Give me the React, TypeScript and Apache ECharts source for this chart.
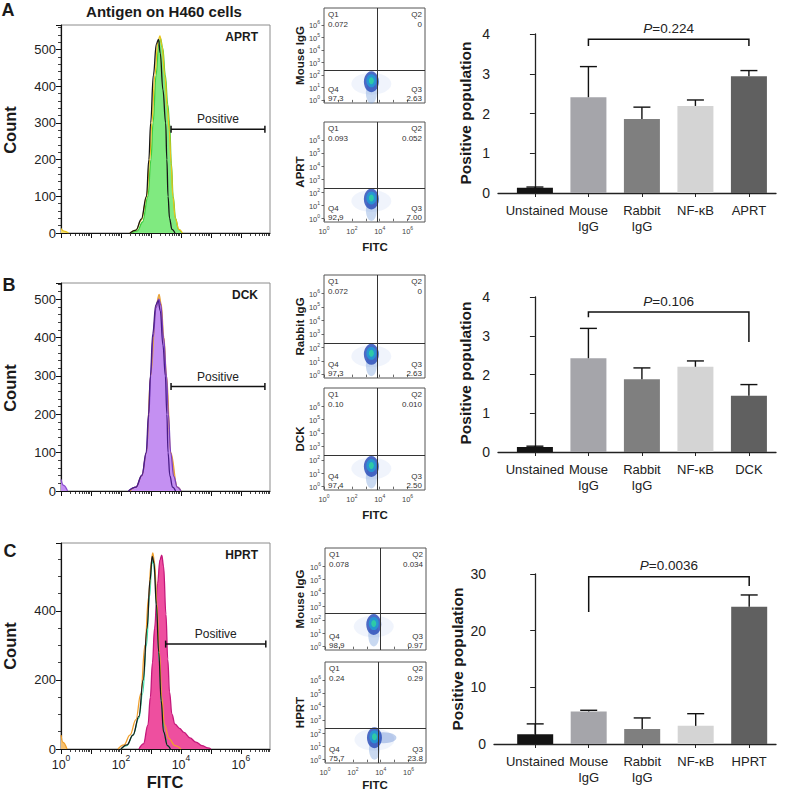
import React, { useEffect, useRef } from "react";
import * as echarts from "echarts";

const FONT = "'Liberation Sans', Arial, Helvetica, sans-serif";

// ---------------- Histogram data (x = log10 FITC, y = count) ----------------
const histA_aprt = [[2.35,0],[2.55,6],[2.72,30],[2.9,100],[3.0,200],[3.07,300],[3.17,430],[3.26,515],[3.32,530],[3.39,505],[3.48,430],[3.56,350],[3.62,300],[3.68,190],[3.74,100],[3.82,40],[3.92,10],[4.03,0]];
const histA_mouse = [[2.3,0],[2.5,8],[2.68,35],[2.86,100],[2.96,200],[3.03,300],[3.13,430],[3.23,520],[3.3,537],[3.37,510],[3.46,430],[3.55,340],[3.61,280],[3.67,190],[3.73,100],[3.81,40],[3.93,10],[4.05,0]];
const histA_unstained = [[2.3,0],[2.5,8],[2.68,38],[2.85,100],[2.93,200],[2.99,300],[3.08,430],[3.18,515],[3.25,528],[3.31,490],[3.4,390],[3.49,300],[3.53,200],[3.57,100],[3.62,40],[3.7,10],[3.8,0]];
const histA_bump = [[0,12],[0.1,5],[0.25,0]];

const histB_mouse = [[2.3,0],[2.5,10],[2.7,40],[2.85,100],[2.99,300],[3.17,480],[3.27,512],[3.34,488],[3.43,400],[3.52,300],[3.66,100],[3.88,10],[4.0,0]];
const histB_dck = [[2.25,0],[2.5,10],[2.7,40],[2.85,100],[2.93,200],[2.99,300],[3.07,400],[3.17,478],[3.26,500],[3.33,485],[3.42,400],[3.52,300],[3.58,200],[3.66,100],[3.76,38],[3.88,10],[4.0,0]];
const histB_rabbit = [[2.25,0],[2.5,10],[2.7,42],[2.84,100],[2.92,200],[2.98,300],[3.06,410],[3.16,485],[3.24,496],[3.31,470],[3.4,380],[3.48,300],[3.53,200],[3.57,100],[3.63,40],[3.72,10],[3.82,0]];
const histB_bump = [[0,30],[0.08,15],[0.22,0]];

const histC_hprt = [[2.6,0],[2.75,15],[2.9,70],[2.98,150],[3.05,250],[3.12,350],[3.22,480],[3.3,548],[3.36,562],[3.42,530],[3.5,390],[3.56,260],[3.62,165],[3.7,100],[3.8,72],[3.95,60],[4.1,48],[4.3,32],[4.5,20],[4.7,10],[4.9,3],[5.0,0]];
const histC_rabbit = [[2.0,0],[2.2,10],[2.4,40],[2.6,90],[2.72,160],[2.85,300],[2.95,440],[3.03,535],[3.08,550],[3.13,505],[3.2,390],[3.28,250],[3.36,120],[3.45,40],[3.55,10],[3.65,0]];
const histC_mouse = [[1.9,0],[2.1,12],[2.3,40],[2.5,85],[2.66,160],[2.8,300],[2.92,440],[3.0,535],[3.06,568],[3.12,540],[3.2,420],[3.28,280],[3.36,150],[3.45,70],[3.6,30],[3.8,10],[4.0,0]];
const histC_unstained = [[2.0,0],[2.2,12],[2.4,40],[2.6,95],[2.74,200],[2.87,350],[2.97,490],[3.04,558],[3.1,540],[3.18,420],[3.26,280],[3.34,140],[3.42,50],[3.55,10],[3.65,0]];
const histC_bump = [[0,40],[0.06,20],[0.2,0]];

const histTitles = ["APRT", "DCK", "HPRT"];
const histYMax = [567, 542, 597];
const histYInterval = [100, 100, 200];
const histXMax = 6.97;
const histXLabelValues = [0, 2, 4, 6];
const histXMajorTicks = [0, 1, 2, 3, 4, 5, 6];
const positiveGateX0 = [3.67, 3.67, 3.49];
const positiveGateX1 = [6.8, 6.8, 6.83];
const positiveGateY = [283, 272, 304];

// ---------------- Flow cytometry dot plots ----------------
const flowLabels = ["Mouse IgG", "APRT", "Rabbit IgG", "DCK", "Mouse IgG", "HPRT"];
const flowQ1 = ["0.072", "0.093", "0.072", "0.10", "0.078", "0.24"];
const flowQ2 = ["0", "0.052", "0", "0.010", "0.034", "0.29"];
const flowQ3 = ["2.63", "7.00", "2.63", "2.50", "0.97", "23.8"];
const flowQ4 = ["97.3", "92.9", "97.3", "97.4", "98.9", "75.7"];
const flowGateX = [3.8, 3.8, 3.8, 3.8, 4.0, 3.8];
const flowGateY = [2.35, 2.35, 2.35, 2.35, 2.5, 2.4];
const flowCoreX = [3.4, 3.4, 3.4, 3.4, 3.5, 3.55];
const flowCoreY = [1.45, 1.5, 1.5, 1.5, 1.65, 1.65];
const flowTicks = [0, 1, 2, 3, 4, 5, 6];
const flowXLabelValues = [0, 2, 4, 6];

// ---------------- Bar charts ----------------
const barCategories = ["Unstained", "Mouse\nIgG", "Rabbit\nIgG", "NF-κB"];
const barTargets = ["APRT", "DCK", "HPRT"];
const barMeansA = [0.13, 2.41, 1.86, 2.19, 2.94];
const barErrTopA = [0.15, 3.18, 2.16, 2.34, 3.08];
const barMeansB = [0.13, 2.42, 1.88, 2.2, 1.45];
const barErrTopB = [0.15, 3.19, 2.17, 2.35, 1.74];
const barMeansC = [1.7, 5.75, 2.65, 3.2, 24.2];
const barErrTopC = [3.55, 5.95, 4.6, 5.35, 26.3];
const barYMax = [4, 4, 30];
const barYInterval = [1, 1, 10];
const pValues = ["0.224", "0.106", "0.0036"];
const bracketFrom = [1, 1, 1];
const bracketTo = [4, 4, 4];
const bracketY = [3.87, 3.61, 29.5];
const bracketLeftEnd = [3.7, 3.48, 23.3];
const bracketRightEnd = [3.7, 2.84, 27.9];

// ---------------- layout (positions / styles) ----------------
const HIST_BOX = [
  { left: 61, top: 25, width: 209, height: 208 },
  { left: 61, top: 283, width: 209, height: 208 },
  { left: 61, top: 543, width: 209, height: 206 },
];
const FLOW_BOX = [
  { left: 324, top: 8, width: 101, height: 95 },
  { left: 324, top: 122, width: 101, height: 100 },
  { left: 324, top: 275, width: 101, height: 103 },
  { left: 324, top: 388, width: 101, height: 102 },
  { left: 325, top: 548, width: 101, height: 102 },
  { left: 325, top: 662, width: 101, height: 101 },
];
const BAR_BOX = [
  { left: 498, top: 34, width: 278, height: 159, xMin: -0.69 },
  { left: 498, top: 297, width: 278, height: 155, xMin: -0.69 },
  { left: 494, top: 574, width: 282, height: 170, xMin: -0.77 },
];
const BAR_UNIT = 53.5;
const barColors = ["#141414", "#a5a5aa", "#7f7f7f", "#d4d4d4", "#606060"];

const minorLogTicks: number[] = [];
for (let n = 0; n < 7; n++) {
  for (let k = 2; k < 10; k++) {
    const v = n + Math.log10(k);
    if (v < histXMax) minorLogTicks.push(v);
  }
}

function txt(x: number, y: number, text: string, o: any = {}) {
  const align = o.align || "center";
  const va = o.va || "middle";
  return {
    type: "text",
    x,
    y,
    rotation: o.rotation || 0,
    silent: true,
    z: 50,
    style: {
      text,
      fontFamily: FONT,
      fontSize: o.size || 12,
      fontWeight: o.bold ? "bold" : "normal",
      fill: o.color || "#1a1a1a",
      align,
      textAlign: align,
      verticalAlign: va,
      textVerticalAlign: va,
    },
  };
}

function buildOption() {
  const grid: any[] = [];
  const xAxis: any[] = [];
  const yAxis: any[] = [];
  const series: any[] = [];
  const graphic: any[] = [];

  // ====== Histograms ======
  const histLayers = [
    [
      { data: histA_aprt, line: "#3fcf3f", fill: "#80ea80" },
      { data: histA_mouse, line: "#e8c41c" },
      { data: histA_unstained, line: "#161616" },
      { data: histA_bump, line: "#e8c41c", fill: "#f2dc70" },
    ],
    [
      { data: histB_mouse, line: "#e8a33a", fill: "#f0b860" },
      { data: histB_dck, line: "#7a3fc2", fill: "#c490f2" },
      { data: histB_rabbit, line: "#4a1d88" },
      { data: histB_bump, line: "#8e50d0", fill: "#c490f2" },
    ],
    [
      { data: histC_hprt, line: "#c4177a", fill: "#ee4f9f" },
      { data: histC_rabbit, line: "#3ddba6" },
      { data: histC_mouse, line: "#f0a02c" },
      { data: histC_unstained, line: "#1a1a1a" },
      { data: histC_bump, line: "#f0a02c", fill: "#f5c070" },
    ],
  ];

  HIST_BOX.forEach((b, i) => {
    const g = grid.length;
    grid.push({ left: b.left, top: b.top, width: b.width, height: b.height, show: true, borderColor: "#8c8c8c", borderWidth: 1, backgroundColor: "transparent" });
    const xi = xAxis.length;
    xAxis.push({
      type: "value", gridIndex: g, min: 0, max: histXMax, position: "bottom",
      axisLine: { show: true, lineStyle: { color: "#111", width: 1.2 } },
      axisTick: { show: true, customValues: histXMajorTicks, length: 5, lineStyle: { color: "#111", width: 1 } },
      splitLine: { show: false },
      axisLabel: {
        show: i === 2,
        customValues: histXLabelValues,
        margin: 4,
        formatter: (v: number) => `{b|10}{s|${v}}`,
        rich: {
          b: { fontSize: 12.5, fontFamily: FONT, color: "#222", lineHeight: 18, verticalAlign: "bottom" },
          s: { fontSize: 8.5, fontFamily: FONT, color: "#222", lineHeight: 9, verticalAlign: "top" },
        },
      },
    });
    xAxis.push({
      type: "value", gridIndex: g, min: 0, max: histXMax, position: "bottom",
      axisLine: { show: false },
      axisTick: { show: true, customValues: minorLogTicks, length: 3, lineStyle: { color: "#111", width: 0.8 } },
      axisLabel: { show: false },
      splitLine: { show: false },
    });
    const yi = yAxis.length;
    yAxis.push({
      type: "value", gridIndex: g, min: 0, max: histYMax[i], interval: histYInterval[i],
      axisLine: { show: true, lineStyle: { color: "#111", width: 1.2 } },
      axisTick: { show: true, length: 5, lineStyle: { color: "#111" } },
      minorTick: { show: true, splitNumber: i === 2 ? 4 : 5, length: 3, lineStyle: { color: "#111", width: 0.8 } },
      splitLine: { show: false },
      axisLabel: { fontSize: 13, color: "#222", margin: 5, showMaxLabel: false, fontFamily: FONT },
    });
    histLayers[i].forEach((l: any) => {
      series.push({
        type: "line", xAxisIndex: xi, yAxisIndex: yi, data: l.data,
        smooth: 0.4, smoothMonotone: "x", showSymbol: false, symbol: "none", silent: true,
        lineStyle: { color: l.line, width: 1.3 },
        areaStyle: l.fill ? { color: l.fill, opacity: 1 } : undefined,
        z: 3,
      });
    });
    // "Positive" gate
    series.push({
      type: "custom", xAxisIndex: xi, yAxisIndex: yi, silent: true, z: 6,
      data: [[positiveGateX0[i], positiveGateX1[i], positiveGateY[i]]],
      renderItem: (_p: any, api: any) => {
        const a = api.coord([api.value(0), api.value(2)]);
        const c = api.coord([api.value(1), api.value(2)]);
        return {
          type: "group",
          children: [
            { type: "line", shape: { x1: a[0], y1: a[1], x2: c[0], y2: c[1] }, style: { stroke: "#111", lineWidth: 1.5 } },
            { type: "line", shape: { x1: a[0], y1: a[1] - 3.5, x2: a[0], y2: a[1] + 3.5 }, style: { stroke: "#111", lineWidth: 1.5 } },
            { type: "line", shape: { x1: c[0], y1: c[1] - 3.5, x2: c[0], y2: c[1] + 3.5 }, style: { stroke: "#111", lineWidth: 1.5 } },
            { type: "text", x: (a[0] + c[0]) / 2, y: a[1] - 4, style: { text: "Positive", fontFamily: FONT, fontSize: 12, fill: "#222", align: "center", verticalAlign: "bottom" } },
          ],
        };
      },
    });
    graphic.push(txt(b.left + b.width - 12, b.top + 12, histTitles[i], { bold: true, size: 12, align: "right" }));
  });

  // ====== Flow plots ======
  FLOW_BOX.forEach((b, j) => {
    const g = grid.length;
    grid.push({ left: b.left, top: b.top, width: b.width, height: b.height, show: true, borderColor: "#555", borderWidth: 1, backgroundColor: "transparent" });
    const bottomPlot = j % 2 === 1;
    const xi = xAxis.length;
    xAxis.push({
      type: "value", gridIndex: g, min: 0, max: 7.25, position: "bottom",
      axisLine: { show: false },
      axisTick: { show: true, customValues: flowTicks, length: 2.5, lineStyle: { color: "#444", width: 0.8 } },
      splitLine: { show: false },
      axisLabel: {
        show: bottomPlot,
        customValues: flowXLabelValues,
        margin: 3,
        formatter: (v: number) => `{b|10}{s|${v}}`,
        rich: {
          b: { fontSize: 7.5, fontFamily: FONT, color: "#444", lineHeight: 10, verticalAlign: "bottom" },
          s: { fontSize: 5, fontFamily: FONT, color: "#444", lineHeight: 5, verticalAlign: "top" },
        },
      },
    });
    const yi = yAxis.length;
    yAxis.push({
      type: "value", gridIndex: g, min: -0.25, max: 7.35,
      axisLine: { show: false },
      axisTick: { show: true, customValues: flowTicks, length: 2.5, lineStyle: { color: "#444", width: 0.8 } },
      splitLine: { show: false },
      axisLabel: {
        customValues: flowTicks,
        margin: 4,
        formatter: (v: number) => `{b|10}{s|${v}}`,
        rich: {
          b: { fontSize: 7.5, fontFamily: FONT, color: "#444", lineHeight: 10, verticalAlign: "bottom" },
          s: { fontSize: 5, fontFamily: FONT, color: "#444", lineHeight: 5, verticalAlign: "top" },
        },
      },
    });
    const core = [[flowCoreX[j], flowCoreY[j]]];
    const layers: any[] = [
      { color: "rgba(140,170,230,0.16)", size: [40, 22], offset: [0, 2] },
      { color: "rgba(120,160,220,0.5)", size: [11, 22], offset: [0, 11] },
      { color: "#2347b6", size: [15, 21], offset: [0, 0] },
      { color: "#1f9fd6", size: [10, 13], offset: [0, -1] },
      { color: "#2fd79b", size: [5, 7], offset: [0, -1] },
    ];
    if (j === 5) layers.splice(1, 0, { color: "rgba(60,110,200,0.4)", size: [26, 11], offset: [9, 0] });
    layers.forEach((l, k) => {
      series.push({
        type: "scatter", xAxisIndex: xi, yAxisIndex: yi, data: core, silent: true,
        symbol: "circle", symbolSize: l.size, symbolOffset: l.offset,
        itemStyle: { color: l.color }, z: 3 + k * 0.01,
        markLine: k === 0 ? {
          silent: true, symbol: ["none", "none"], label: { show: false },
          lineStyle: { color: "#333", width: 1, type: "solid" },
          data: [{ xAxis: flowGateX[j] }, { yAxis: flowGateY[j] }],
        } : undefined,
      });
    });
    const L = b.left, R = b.left + b.width, T = b.top, B = b.top + b.height;
    const qs = { size: 8, color: "#333" };
    graphic.push(txt(L + 4, T + 6, "Q1", { ...qs, align: "left" }));
    graphic.push(txt(L + 4, T + 16, flowQ1[j], { ...qs, align: "left" }));
    graphic.push(txt(R - 3, T + 6, "Q2", { ...qs, align: "right" }));
    graphic.push(txt(R - 3, T + 16, flowQ2[j], { ...qs, align: "right" }));
    graphic.push(txt(L + 4, B - 14, "Q4", { ...qs, align: "left" }));
    graphic.push(txt(L + 4, B - 4.5, flowQ4[j], { ...qs, align: "left" }));
    graphic.push(txt(R - 3, B - 14, "Q3", { ...qs, align: "right" }));
    graphic.push(txt(R - 3, B - 4.5, flowQ3[j], { ...qs, align: "right" }));
    graphic.push(txt(300, T + b.height / 2, flowLabels[j], { bold: true, size: 11.5, rotation: Math.PI / 2 }));
  });

  // ====== Bar charts ======
  const means = [barMeansA, barMeansB, barMeansC];
  const errs = [barErrTopA, barErrTopB, barErrTopC];
  BAR_BOX.forEach((b, k) => {
    const g = grid.length;
    grid.push({ left: b.left, top: b.top, width: b.width, height: b.height });
    const cats = [...barCategories, barTargets[k]];
    const xi = xAxis.length;
    xAxis.push({
      type: "value", gridIndex: g, min: b.xMin, max: b.xMin + b.width / BAR_UNIT, position: "bottom",
      axisLine: { show: true, lineStyle: { color: "#222", width: 1.3 } },
      axisTick: { show: true, customValues: [0, 1, 2, 3, 4], length: 4, lineStyle: { color: "#222" } },
      splitLine: { show: false },
      axisLabel: {
        customValues: [0, 1, 2, 3, 4],
        formatter: (v: number) => cats[Math.round(v)],
        fontSize: 13, color: "#222", lineHeight: 16, margin: 9, fontFamily: FONT,
      },
    });
    const yi = yAxis.length;
    yAxis.push({
      type: "value", gridIndex: g, min: 0, max: barYMax[k], interval: barYInterval[k],
      axisLine: { show: true, lineStyle: { color: "#222", width: 1.3 } },
      axisTick: { show: true, length: 5, lineStyle: { color: "#222" } },
      splitLine: { show: false },
      axisLabel: { fontSize: 14, color: "#222", margin: 8, fontFamily: FONT },
    });
    series.push({
      type: "bar", xAxisIndex: xi, yAxisIndex: yi, barWidth: 36, silent: true, z: 2,
      data: means[k].map((v, i) => ({ value: [i, v], itemStyle: { color: barColors[i] } })),
    });
    series.push({
      type: "custom", xAxisIndex: xi, yAxisIndex: yi, silent: true, z: 4,
      data: means[k].map((v, i) => [i, v, errs[k][i]]),
      renderItem: (_p: any, api: any) => {
        const p0 = api.coord([api.value(0), api.value(1)]);
        const p1 = api.coord([api.value(0), api.value(2)]);
        return {
          type: "group",
          children: [
            { type: "line", shape: { x1: p0[0], y1: p0[1], x2: p1[0], y2: p1[1] }, style: { stroke: "#111", lineWidth: 1.4 } },
            { type: "line", shape: { x1: p1[0] - 8.5, y1: p1[1], x2: p1[0] + 8.5, y2: p1[1] }, style: { stroke: "#111", lineWidth: 1.4 } },
          ],
        };
      },
    });
    series.push({
      type: "custom", xAxisIndex: xi, yAxisIndex: yi, silent: true, z: 5,
      data: [[bracketFrom[k], bracketTo[k], bracketY[k], bracketLeftEnd[k], bracketRightEnd[k]]],
      renderItem: (_p: any, api: any) => {
        const a = api.coord([api.value(0), api.value(3)]);
        const bb = api.coord([api.value(0), api.value(2)]);
        const c = api.coord([api.value(1), api.value(2)]);
        const d = api.coord([api.value(1), api.value(4)]);
        return {
          type: "group",
          children: [
            { type: "polyline", shape: { points: [a, bb, c, d] }, style: { stroke: "#111", lineWidth: 1.5, fill: null } },
            {
              type: "text", x: (bb[0] + c[0]) / 2, y: bb[1] - 4,
              style: {
                text: `{i|P}{n|=${pValues[k]}}`,
                rich: {
                  i: { fontStyle: "italic", fontSize: 13.5, fontFamily: FONT, fill: "#222" },
                  n: { fontSize: 13.5, fontFamily: FONT, fill: "#222" },
                },
                fontSize: 13.5, fontFamily: FONT, fill: "#222", align: "center", verticalAlign: "bottom",
              },
            },
          ],
        };
      },
    });
  });

  // ====== Static texts ======
  graphic.push(txt(8, 10, "A", { bold: true, size: 18 }));
  graphic.push(txt(9, 285, "B", { bold: true, size: 18 }));
  graphic.push(txt(10, 551, "C", { bold: true, size: 18 }));
  graphic.push(txt(164, 11, "Antigen on H460 cells", { bold: true, size: 15 }));
  [130, 388, 646].forEach((y) => graphic.push(txt(10, y, "Count", { bold: true, size: 16.5, rotation: Math.PI / 2 })));
  graphic.push(txt(165, 782, "FITC", { bold: true, size: 16.5 }));
  [247, 515, 785].forEach((y) => graphic.push(txt(375, y, "FITC", { bold: true, size: 11.5 })));
  [[465, 113], [465, 373], [457, 659]].forEach(([x, y]) => graphic.push(txt(x, y, "Positive population", { bold: true, size: 15.5, rotation: Math.PI / 2 })));

  return {
    animation: false,
    backgroundColor: "#ffffff",
    textStyle: { fontFamily: FONT },
    grid,
    xAxis,
    yAxis,
    series,
    graphic: { elements: graphic },
  };
}

export default function App() {
  const ref = useRef<HTMLDivElement>(null);
  useEffect(() => {
    if (!ref.current) return;
    const chart = echarts.init(ref.current, null, { renderer: "svg" });
    chart.setOption(buildOption() as any);
    return () => chart.dispose();
  }, []);
  return (
    <div
      ref={ref}
      style={{ position: "absolute", left: 0, top: 0, width: 787, height: 797, background: "#fff" }}
    />
  );
}
